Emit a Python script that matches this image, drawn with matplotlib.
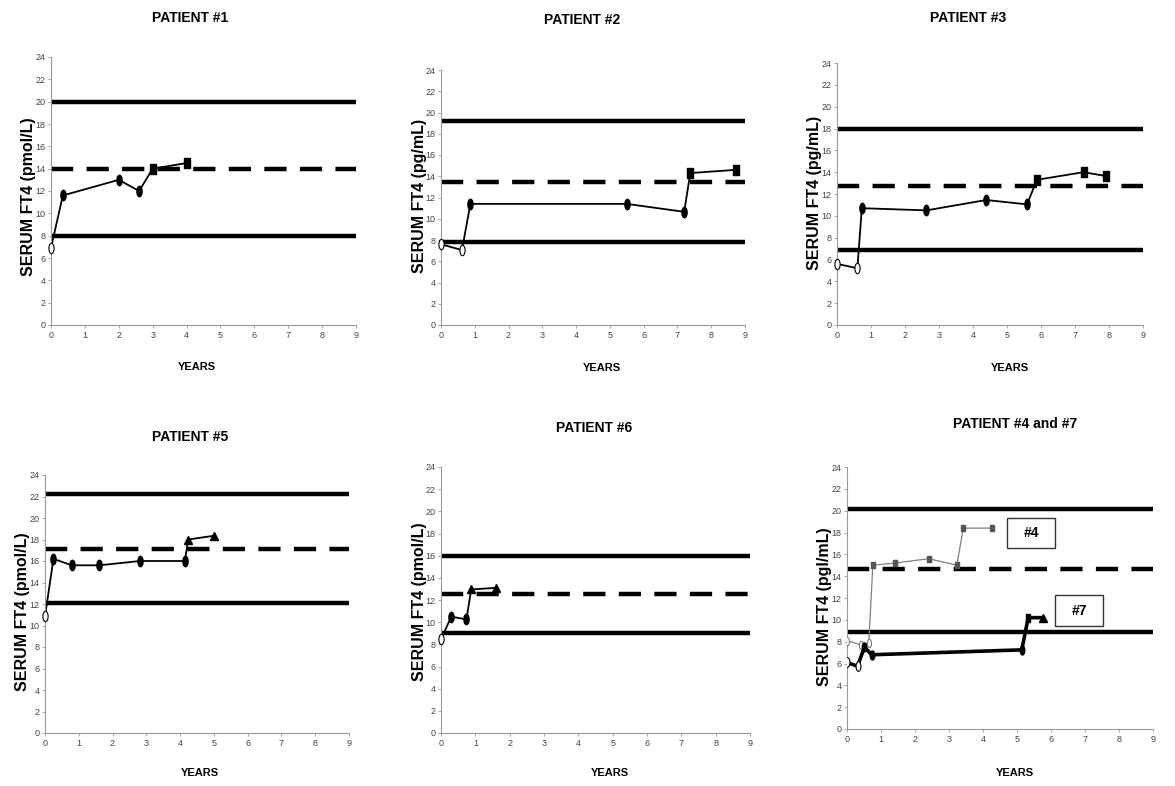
import matplotlib.pyplot as plt
import numpy as np
from matplotlib.path import Path
from matplotlib.transforms import Affine2D
from matplotlib.patches import Rectangle

# ---- data (years, serum FT4) ----
# reference lines per panel: lower limit, mid (dashed), upper limit
p1_ref = [8.0, 14.0, 20.0]
p1_base_x, p1_base_y = [0.0], [6.9]
p1_mid_x, p1_mid_y = [0.35, 2.0, 2.6], [11.6, 13.0, 12.0]
p1_late_x, p1_late_y = [3.0, 4.0], [14.0, 14.5]

p2_ref = [7.8, 13.45, 19.2]
p2_base_x, p2_base_y = [0.0, 0.62], [7.6, 7.05]
p2_mid_x, p2_mid_y = [0.87, 5.5, 7.2], [11.4, 11.4, 10.65]
p2_late_x, p2_late_y = [7.38, 8.72], [14.3, 14.6]

p3_ref = [6.85, 12.7, 18.0]
p3_base_x, p3_base_y = [0.0, 0.6], [5.6, 5.2]
p3_mid_x, p3_mid_y = [0.73, 2.63, 4.39, 5.59], [10.7, 10.5, 11.45, 11.05]
p3_late_x, p3_late_y = [5.88, 7.25, 7.9], [13.3, 14.0, 13.65]

p5_ref = [12.05, 17.1, 22.2]
p5_base_x, p5_base_y = [0.0], [10.85]
p5_mid_x, p5_mid_y = [0.25, 0.79, 1.61, 2.81, 4.14], [16.2, 15.6, 15.6, 16.0, 16.0]
p5_late_x, p5_late_y = [4.24, 5.01], [18.0, 18.35]

p6_ref = [9.0, 12.55, 15.95]
p6_base_x, p6_base_y = [0.0], [8.45]
p6_mid_x, p6_mid_y = [0.3, 0.74], [10.5, 10.25]
p6_late_x, p6_late_y = [0.88, 1.61], [12.95, 13.1]

p47_ref = [8.9, 14.7, 20.15]
p4_base_x, p4_base_y = [0.0, 0.41, 0.64], [8.1, 7.7, 7.9]
p4_mid_x, p4_mid_y = [0.76, 1.42, 2.4, 3.23], [15.0, 15.2, 15.6, 15.0]
p4_late_x, p4_late_y = [3.42, 4.26], [18.4, 18.4]
p7_base_x, p7_base_y = [0.0, 0.31], [6.1, 5.75]
p7_mid_x, p7_mid_y = [0.51, 0.73, 5.14], [7.5, 6.8, 7.25]
p7_late_x, p7_late_y = [5.33, 5.77], [10.2, 10.2]

x_ticks = list(range(0, 10))
y_ticks = list(range(0, 25, 2))

W, H = 1175, 786
fig = plt.figure(figsize=(W / 100, H / 100), dpi=100)
plt.rcParams['font.family'] = ['Liberation Sans', 'DejaVu Sans']

# custom markers: tall ellipse and tall rectangle
ellipse = Path.unit_circle().transformed(Affine2D().scale(0.5, 1.0))
rect = Path([(-0.55, -1), (0.55, -1), (0.55, 1), (-0.55, 1), (-0.55, -1)],
            [Path.MOVETO, Path.LINETO, Path.LINETO, Path.LINETO, Path.CLOSEPOLY])


def box(l, r, b, t):
    return [l / W, 1 - b / H, (r - l) / W, (b - t) / H]


def ftext(x, y, s, **kw):
    fig.text(x / W, 1 - y / H, s, ha='center', va='center', fontweight='bold', **kw)


def setup(ax, ref):
    ax.set_xlim(0, 9)
    ax.set_ylim(0, 24)
    ax.set_xticks(x_ticks)
    ax.set_yticks(y_ticks)
    for s in ['top', 'right']:
        ax.spines[s].set_visible(False)
    for s in ['left', 'bottom']:
        ax.spines[s].set_color('#999999')
        ax.spines[s].set_linewidth(0.8)
    ax.tick_params(length=2.5, width=0.6, color='#999999', labelsize=6.5,
                   labelcolor='#444444', pad=1.5)
    ax.axhline(ref[0], color='black', lw=3.2, zorder=1)
    ax.axhline(ref[2], color='black', lw=3.2, zorder=1)
    ax.axhline(ref[1], color='black', lw=3.2, ls=(0, (5, 3)), zorder=1)


def series(ax, bx, by, mx, my, lx, ly, late, color='black', lw=1.3, ms=7.5):
    xs = bx + mx + lx
    ys = by + my + ly
    ax.plot(xs, ys, color=color, lw=lw, zorder=2, clip_on=False)
    ax.plot(bx, by, ls='none', marker=ellipse, ms=ms, mfc='white', mec=color,
            mew=0.8, zorder=3, clip_on=False)
    ax.plot(mx, my, ls='none', marker=ellipse, ms=ms, mfc=color, mec=color,
            zorder=3, clip_on=False)
    if late == 'rect':
        ax.plot(lx, ly, ls='none', marker=rect, ms=ms, mfc=color, mec=color,
                zorder=3, clip_on=False)
    else:
        ax.plot(lx, ly, ls='none', marker='^', ms=ms * 0.75, mfc=color, mec=color,
                zorder=3, clip_on=False)


panels = [
    (box(51, 356, 325, 57), p1_ref,
     (p1_base_x, p1_base_y, p1_mid_x, p1_mid_y, p1_late_x, p1_late_y), 'rect',
     'PATIENT #1', (190, 18), 'SERUM FT4 (pmol/L)', (29, 197), (197, 367)),
    (box(441, 745, 325, 70), p2_ref,
     (p2_base_x, p2_base_y, p2_mid_x, p2_mid_y, p2_late_x, p2_late_y), 'rect',
     'PATIENT #2', (582, 20), 'SERUM FT4 (pg/mL)', (419, 196), (602, 368)),
    (box(837, 1143, 325, 63), p3_ref,
     (p3_base_x, p3_base_y, p3_mid_x, p3_mid_y, p3_late_x, p3_late_y), 'rect',
     'PATIENT #3', (968, 18), 'SERUM FT4 (pg/mL)', (814, 193), (1010, 368)),
    (box(45, 349, 733, 475), p5_ref,
     (p5_base_x, p5_base_y, p5_mid_x, p5_mid_y, p5_late_x, p5_late_y), 'tri',
     'PATIENT #5', (190, 437), 'SERUM FT4 (pmol/L)', (23, 612), (200, 773)),
    (box(441, 750, 733, 467), p6_ref,
     (p6_base_x, p6_base_y, p6_mid_x, p6_mid_y, p6_late_x, p6_late_y), 'tri',
     'PATIENT #6', (594, 428), 'SERUM FT4 (pmol/L)', (419, 602), (610, 773)),
]

for pos, ref, data, late, title, tpos, ylab, ypos, xpos in panels:
    ax = fig.add_axes(pos)
    setup(ax, ref)
    series(ax, *data, late=late)
    ftext(*tpos, title, fontsize=10)
    ftext(*ypos, ylab, fontsize=11.5, rotation=90)
    ftext(*xpos, 'YEARS', fontsize=8)

# Patient #4 and #7 combined panel
ax = fig.add_axes(box(847, 1153, 729, 467))
setup(ax, p47_ref)
gray = '#808080'
ax.plot(p4_base_x + p4_mid_x + p4_late_x, p4_base_y + p4_mid_y + p4_late_y,
        color=gray, lw=0.9, zorder=2)
ax.plot(p4_base_x, p4_base_y, ls='none', marker=ellipse, ms=6, mfc='white',
        mec=gray, mew=0.8, zorder=3)
ax.plot(p4_mid_x + p4_late_x, p4_mid_y + p4_late_y, ls='none', marker=rect,
        ms=5, mfc='#555555', mec='#555555', zorder=3)
ax.plot(p7_base_x + p7_mid_x + p7_late_x, p7_base_y + p7_mid_y + p7_late_y,
        color='black', lw=2.6, zorder=2)
ax.plot(p7_base_x, p7_base_y, ls='none', marker=ellipse, ms=7, mfc='white',
        mec='black', mew=0.8, zorder=3)
ax.plot(p7_mid_x, p7_mid_y, ls='none', marker=ellipse, ms=6.5, mfc='black',
        mec='black', zorder=3)
ax.plot(p7_late_x[:1], p7_late_y[:1], ls='none', marker=rect, ms=6,
        mfc='black', mec='black', zorder=3)
ax.plot(p7_late_x[1:], p7_late_y[1:], ls='none', marker='^', ms=6,
        mfc='black', mec='black', zorder=3)

# label boxes for the two curves
for (x0, x1, y0, y1), lab in [((4.71, 6.12, 16.6, 19.3), '#4'),
                               ((6.12, 7.53, 9.4, 12.3), '#7')]:
    ax.add_patch(Rectangle((x0, y0), x1 - x0, y1 - y0, fc='white',
                           ec='#333333', lw=1.0, zorder=4))
    ax.text((x0 + x1) / 2, (y0 + y1) / 2, lab, ha='center', va='center',
            fontsize=10, fontweight='bold', zorder=5)

ftext(1015, 424, 'PATIENT #4 and #7', fontsize=10)
ftext(825, 607, 'SERUM FT4 (pgl/mL)', fontsize=11.5, rotation=90)
ftext(1015, 773, 'YEARS', fontsize=8)

fig.savefig('out.png', dpi=100)
